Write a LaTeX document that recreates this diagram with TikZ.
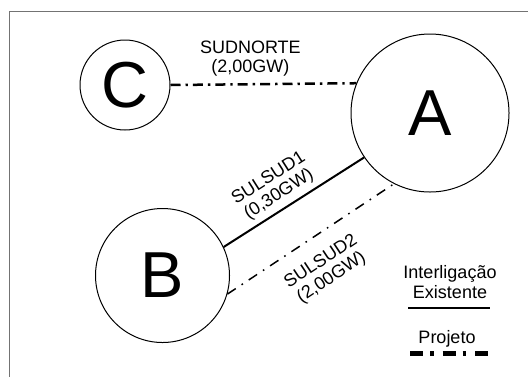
\documentclass[tikz,border=0pt]{standalone}
\usepackage{fontspec}
\setmainfont{Liberation Sans}
\usetikzlibrary{positioning}

\begin{document}
\begin{tikzpicture}[
  x=0.5pt, y=-0.5pt,
  area/.style={circle, draw, line width=0.5pt, inner sep=0pt,
               font=\fontsize{32.5}{34}\selectfont},
  lbl/.style={font=\fontsize{9}{9.6}\selectfont, align=center, inner sep=0pt},
  exist/.style={line width=1pt},
  proj/.style={line width=1.25pt, dash pattern=on 5pt off 2.5pt on 1.2pt off 2.5pt},
  projthin/.style={line width=0.75pt, dash pattern=on 5pt off 3.5pt on 0.8pt off 3.5pt}
]
\useasboundingbox (0,0) rectangle (528,376);
\clip (0,0) rectangle (528,376);
% outer frame (runs off the page on the right and bottom)
\draw[black!55, line width=0.7pt] (9.5,11.5) rectangle (560,400);
% areas
\node[area, minimum size=79pt] (A) at (430,113) {A};
\node[area, minimum size=67pt] (B) at (162.5,275.5) {B};
\node[area, minimum size=45pt] (C) at (125,85) {C};
% interconnections
\draw[proj] (C.east) -- (A.158)
  node[lbl, pos=.43, above=3.5pt] (sudnorte) {SUDNORTE\\(2,00GW)};
\draw[exist] (B.25) -- (A.214)
  node[lbl, pos=.45, sloped, above=2.6pt] (sulsud1) {SULSUD1\\(0,30GW)};
\draw[projthin] (B.344) -- (A.243)
  node[lbl, pos=.48, sloped, below=8pt] (sulsud2) {SULSUD2\\(2,00GW)};
% legend
\node[lbl] (legexist) at (450,282) {Interligação\\Existente};
\coordinate (e1) at (408,308);
\coordinate (e2) at (490,308);
\draw[line width=1.35pt] (e1) -- (e2);
\node[lbl] (legproj) at (447,339) {Projeto};
\coordinate (p1) at (410,353);
\coordinate (p2) at (488,353);
\draw[line width=2.5pt, dash pattern=on 6.5pt off 3.5pt on 1.75pt off 4.5pt] (p1) -- (p2);
\end{tikzpicture}
\end{document}
